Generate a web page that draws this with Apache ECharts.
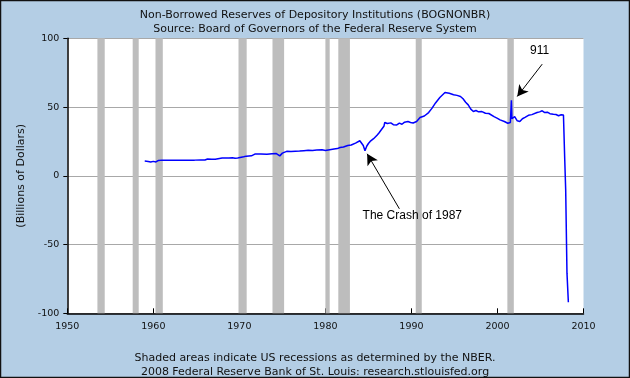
<!DOCTYPE html>
<html><head><meta charset="utf-8">
<script src="https://cdn.jsdelivr.net/npm/echarts@6/dist/echarts.min.js"></script>
<style>html,body{margin:0;padding:0;background:#b4cee5}#c{width:630px;height:378px}</style>
</head><body><div id="c"></div>
<script>
const titleLines = ["Non-Borrowed Reserves of Depository Institutions (BOGNONBR)", "Source: Board of Governors of the Federal Reserve System"];
const footerLines = ["Shaded areas indicate US recessions as determined by the NBER.", "2008 Federal Reserve Bank of St. Louis: research.stlouisfed.org"];
const yAxisName = "(Billions of Dollars)";
const xTicks = [1950, 1960, 1970, 1980, 1990, 2000, 2010];
const yTicks = [-100, -50, 0, 50, 100];
const recessionStart = [1953.5, 1957.6, 1960.25, 1969.9, 1973.85, 1980.0, 1981.5, 1990.5, 2001.15];
const recessionEnd   = [1954.35, 1958.3, 1961.1, 1970.85, 1975.2, 1980.5, 1982.85, 1991.2, 2001.9];
const years = [1959.0,1959.4,1959.7,1960.0,1960.3,1960.6,1961.0,1962.0,1963.0,1964.0,1964.8,1965.0,1965.5,1966.0,1966.3,1966.8,1967.2,1967.4,1968.0,1968.8,1969.2,1969.5,1969.8,1970.0,1970.5,1970.8,1971.4,1971.8,1972.5,1973.2,1973.8,1974.3,1974.7,1975.0,1975.5,1976.0,1976.5,1977.0,1977.5,1978.0,1978.5,1979.0,1979.6,1980.0,1980.2,1980.5,1981.0,1981.4,1981.7,1982.1,1982.6,1983.0,1983.5,1984.0,1984.2,1984.4,1984.6,1984.8,1985.0,1985.2,1985.6,1986.0,1986.2,1986.5,1986.8,1986.9,1987.2,1987.6,1987.9,1988.3,1988.6,1988.9,1989.2,1989.6,1989.9,1990.2,1990.6,1991.0,1991.5,1992.0,1992.4,1992.8,1993.3,1993.9,1994.4,1994.9,1995.3,1995.7,1996.0,1996.3,1996.6,1996.9,1997.2,1997.5,1997.8,1998.2,1998.6,1999.0,1999.2,1999.6,2000.0,2000.3,2000.8,2001.2,2001.5,2001.58,2001.62,2001.68,2002.0,2002.3,2002.6,2002.9,2003.2,2003.6,2004.0,2004.2,2004.6,2004.9,2005.2,2005.5,2005.8,2006.1,2006.5,2006.8,2007.1,2007.4,2007.6,2007.67,2007.73,2007.82,2007.93,2008.08,2008.24];
const reserves = [10.7,10.4,10.0,10.5,10.1,11.2,11.4,11.4,11.4,11.4,11.4,12.1,11.5,11.5,12.2,12.0,12.0,12.9,12.9,12.9,13.2,12.8,13.0,13.6,13.8,14.3,14.5,15.8,15.8,15.6,16.0,16.2,14.5,16.5,17.8,17.6,17.9,18.0,18.3,18.6,18.4,18.7,18.9,18.4,17.6,19.0,19.5,19.8,20.6,20.9,22.0,22.4,23.8,25.5,25.0,22.0,18.2,21.5,23.5,25.0,27.0,29.5,31.0,33.5,36.0,38.8,38.0,38.5,37.2,37.0,38.3,37.5,39.0,39.5,38.8,38.4,39.5,42.4,43.5,46.0,49.2,53.0,57.0,60.6,60.0,59.0,58.5,57.7,56.0,53.5,51.6,48.5,46.8,47.5,46.5,46.7,45.5,45.3,44.8,43.0,41.8,40.7,39.5,38.2,38.8,40.0,55.0,41.5,43.0,40.0,39.5,41.5,42.5,44.0,44.5,45.6,46.0,46.5,47.3,46.0,46.3,45.2,44.8,44.6,43.7,44.4,43.0,44.2,43.0,11.6,-10.2,-70.8,-91.9];
const notes = [{text: "The Crash of 1987", at: [1990.1, -29.1], from: [1988.6, -24], to: [1984.85, 16]},
               {text: "911", at: [2004.9, 90.9], from: [2005.2, 81.2], to: [2002.3, 57.7]}];

const chart = echarts.init(document.getElementById('c'), null, {renderer: 'canvas'});
const font = 'DejaVu Sans';
chart.setOption({
  backgroundColor: '#b4cee5',
  animation: false,
  title: [
    {text: titleLines.join('\n'), left: 'center', top: 3, textStyle: {fontFamily: font, fontSize: 11, fontWeight: 'normal', color: '#111', lineHeight: 14}},
    {text: footerLines.join('\n'), left: 'center', top: 346, textStyle: {fontFamily: font, fontSize: 11, fontWeight: 'normal', color: '#111', lineHeight: 14}}
  ],
  grid: {left: 67.3, right: 46.5, top: 38.3, bottom: 64.7, backgroundColor: '#fff', show: true, borderWidth: 0},
  xAxis: {
    type: 'value', min: xTicks[0], max: xTicks[xTicks.length - 1], interval: 10,
    axisLine: {onZero: false, lineStyle: {color: '#000', width: 1.5}},
    axisTick: {inside: true, length: 5, lineStyle: {color: '#000'}},
    axisLabel: {fontFamily: font, fontSize: 9.5, color: '#111', margin: 8, formatter: v => String(v)},
    splitLine: {show: false}
  },
  yAxis: {
    type: 'value', min: yTicks[0], max: yTicks[yTicks.length - 1], interval: 50,
    name: yAxisName, nameLocation: 'middle', nameRotate: 90, nameGap: 37,
    nameTextStyle: {fontFamily: font, fontSize: 11, color: '#111'},
    axisLine: {lineStyle: {color: '#000', width: 1.5}},
    axisTick: {length: 4, lineStyle: {color: '#000'}},
    axisLabel: {fontFamily: font, fontSize: 9.5, color: '#111', margin: 8},
    splitLine: {show: true, lineStyle: {color: '#a8a8a8', width: 1}}
  },
  series: [{
    type: 'line', showSymbol: false, symbol: 'none', z: 3,
    data: years.map((y, i) => [y, reserves[i]]),
    lineStyle: {color: '#0000ff', width: 1.5},
    markArea: {silent: true, itemStyle: {color: '#bdbdbd'},
      data: recessionStart.map((s, i) => [{xAxis: s}, {xAxis: recessionEnd[i]}])},
    markLine: {silent: true, symbol: ['none', 'arrow'], symbolSize: [9, 11], label: {show: false},
      lineStyle: {color: '#000', width: 1, type: 'solid'},
      data: notes.map(n => [{coord: n.from}, {coord: n.to}])},
    markPoint: {silent: true, symbol: 'circle', symbolSize: 0,
      label: {show: true, position: 'inside', fontFamily: 'Liberation Sans', fontSize: 12, color: '#000', formatter: p => p.name},
      data: notes.map(n => ({name: n.text, coord: n.at}))}
  }],
  graphic: [{type: 'rect', z: 100, shape: {x: 0.5, y: 0.5, width: 629, height: 377}, style: {fill: 'none', stroke: '#111', lineWidth: 1.5}}]
});
</script></body></html>
